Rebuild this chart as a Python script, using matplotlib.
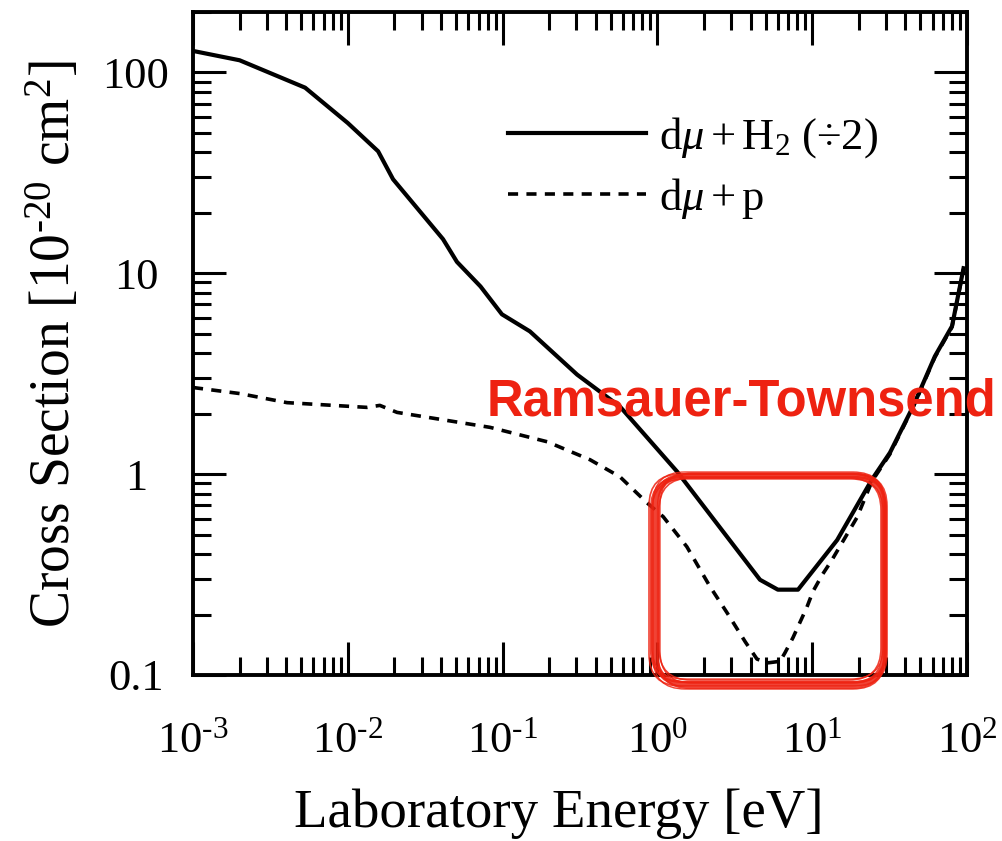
import matplotlib
matplotlib.use('Agg')
import matplotlib.pyplot as plt
import numpy as np
from matplotlib.patches import FancyBboxPatch
from matplotlib.ticker import LogLocator, NullFormatter

plt.rcParams['font.family'] = ['Liberation Serif', 'DejaVu Serif']
plt.rcParams['mathtext.fontset'] = 'custom'
plt.rcParams['mathtext.rm'] = 'Liberation Serif'
plt.rcParams['mathtext.it'] = 'Liberation Serif:italic'
plt.rcParams['mathtext.bf'] = 'Liberation Serif:bold'

# ---- data ----
energy_h2 = [0.001, 0.002, 0.0053, 0.01, 0.0157, 0.0196, 0.0412, 0.0507, 0.072,
             0.099, 0.150, 0.303, 0.573, 1.34, 4.6, 6.0, 8.1, 10.1, 14.5,
             24.3, 31.8, 44.8, 62.0, 80.0, 95.0]
sigma_h2 = [128, 115, 84, 56, 40.5, 29.4, 14.8, 11.4, 8.6,
            6.25, 5.14, 3.13, 2.17, 1.03, 0.298, 0.266, 0.266, 0.330, 0.47,
            0.94, 1.28, 2.17, 3.86, 5.45, 10.6]

energy_p = [0.001, 0.002, 0.00405, 0.0133, 0.0161, 0.0208, 0.083, 0.194, 0.367,
            0.573, 0.857, 1.09, 1.55, 2.19, 2.82, 3.7, 4.4, 5.2, 6.2, 6.67, 7.5,
            9.25, 10.1, 11.6, 13.3, 19.5, 24.3, 31.8, 44.8, 62.0, 80.0, 95.0]
sigma_p = [2.70, 2.52, 2.27, 2.15, 2.20, 2.03, 1.71, 1.45, 1.18,
           0.97, 0.72, 0.614, 0.435, 0.275, 0.204, 0.146, 0.120, 0.115, 0.117, 0.129, 0.153,
           0.218, 0.26, 0.315, 0.37, 0.61, 0.92, 1.26, 2.15, 3.82, 5.4, 10.5]

label_h2 = r'$\mathrm{d}\mu+\mathrm{H}_2$ (÷2)'
label_p = r'$\mathrm{d}\mu+\mathrm{p}$'

xtick_vals = [1e-3, 1e-2, 1e-1, 1e0, 1e1, 1e2]
xtick_labels = [r'$10^{\text{-}3}$', r'$10^{\text{-}2}$', r'$10^{\text{-}1}$',
                r'$10^{0}$', r'$10^{1}$', r'$10^{2}$']
ytick_vals = [0.1, 1, 10, 100]
ytick_labels = ['0.1', '1', '10', '100']

annot_text = 'Ramsauer-Townsend'
red = '#EE2211'

# ---- figure ----
W, H = 1003, 841
fig = plt.figure(figsize=(W / 100, H / 100), dpi=100)
ax = fig.add_axes([193 / W, (H - 675) / H, 774 / W, 663 / H])
ax.set_xscale('log')
ax.set_yscale('log')

ax.plot(energy_h2, sigma_h2, color='black', lw=3.0, solid_joinstyle='round',
        label=label_h2)
ax.plot(energy_p, sigma_p, color='black', lw=2.6, linestyle=(0, (2.8, 2.3)),
        label=label_p)

ax.set_xlim(1e-3, 1e2)
ax.set_ylim(0.1, 200)

ax.set_xticks(xtick_vals, xtick_labels)
ax.set_yticks(ytick_vals, ytick_labels)
ax.xaxis.set_minor_locator(LogLocator(base=10, subs=np.arange(2, 10), numticks=100))
ax.yaxis.set_minor_locator(LogLocator(base=10, subs=np.arange(2, 10), numticks=100))
ax.xaxis.set_minor_formatter(NullFormatter())
ax.yaxis.set_minor_formatter(NullFormatter())

ax.tick_params(which='both', direction='in', top=True, right=True, width=2.2,
               color='black')
ax.tick_params(which='major', length=24, labelsize=32)
ax.tick_params(which='minor', length=13)
ax.tick_params(axis='x', which='major', pad=33)
ax.tick_params(axis='y', which='major', pad=41)
for lab in ax.get_yticklabels():
    lab.set_ha('center')
for sp in ax.spines.values():
    sp.set_linewidth(2.8)

ax.set_xlabel('Laboratory Energy [eV]', fontsize=39.5)
ax.xaxis.label.set_va('baseline')
ax.xaxis.set_label_coords(0.472, -(827 - 675) / 663)
ax.set_ylabel(r'Cross Section [10$^{\text{-}20}$ cm$^{2}$]', fontsize=40)
ax.yaxis.label.set_va('baseline')
ax.yaxis.set_label_coords(-(193 - 70) / 774, (675 - 344) / 663)

leg = ax.legend(loc='upper left', bbox_to_anchor=((508 - 193) / 774, 1 - (115 - 12) / 663),
                frameon=False, fontsize=32, handlelength=3.1, handletextpad=0.3,
                borderpad=0, borderaxespad=0, labelspacing=0.35)

# ---- red annotation ----
fig.text(487 / W, (H - 415) / H, annot_text, color=red, fontsize=36.5,
         fontweight='bold', family='Liberation Sans', ha='left', va='baseline')

tr = fig.dpi_scale_trans
offsets = [(0, 0, 0, 0, 4.0), (-4, 2, 6, -3, 1.6), (3, -4, -3, 6, 1.6),
           (-6, -2, 9, 4, 1.2), (4, 4, -7, -6, 1.2), (-2, -5, 3, 9, 1.0),
           (5, 1, -4, 2, 1.0), (-3, 5, 2, -8, 1.0)]
for dx, dy, dw, dh, lw in offsets:
    x0, y0 = 655 + dx, H - 684 + dy
    w, h = 229 + dw, 208 + dh
    box = FancyBboxPatch((x0 / 100, y0 / 100), w / 100, h / 100,
                         boxstyle='round,pad=0,rounding_size=0.32',
                         transform=tr, fill=False, edgecolor=red, lw=lw,
                         alpha=0.85)
    fig.add_artist(box)

fig.savefig('out.png', dpi=100)
